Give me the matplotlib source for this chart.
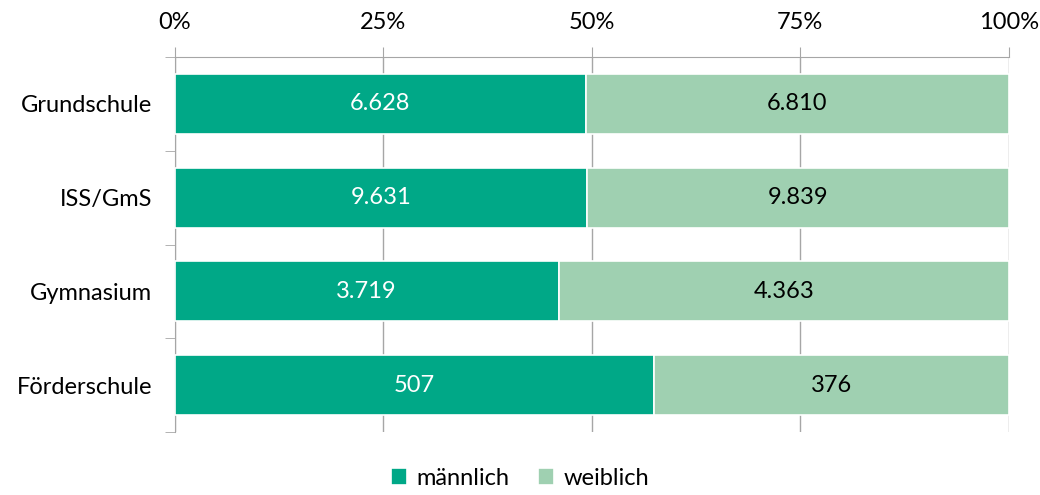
import matplotlib
matplotlib.use('agg')
import matplotlib.pyplot as plt
import numpy as np

categories = ['Grundschule', 'ISS/GmS', 'Gymnasium', 'Förderschule']
maennlich = [6628, 9631, 3719, 507]
weiblich = [6810, 9839, 4363, 376]
ticks = [0, 25, 50, 75, 100]
tick_labels = ['0%', '25%', '50%', '75%', '100%']

c_m = '#00A887'
c_w = '#9FD0B1'
grey = '#A6A6A6'

plt.rcParams['font.family'] = ['Lato', 'DejaVu Sans']

def fmt(v):
    return f'{v:,}'.replace(',', '.')

m = np.array(maennlich, dtype=float)
w = np.array(weiblich, dtype=float)
tot = m + w
pm = m / tot * 100
pw = w / tot * 100
y = np.arange(len(categories))

fig = plt.figure(figsize=(10.4, 4.95), dpi=100)
ax = fig.add_axes([0.168, 0.127, 0.802, 0.758])

b1 = ax.barh(y, pm, height=0.64, color=c_m, edgecolor='white', linewidth=1.2, label='männlich', zorder=3)
b2 = ax.barh(y, pw, left=pm, height=0.64, color=c_w, edgecolor='white', linewidth=1.2, label='weiblich', zorder=3)

fs = 17
for i in range(len(categories)):
    ax.text(pm[i] / 2, y[i], fmt(maennlich[i]), ha='center', va='center', color='white', fontsize=fs, zorder=4)
    ax.text(pm[i] + pw[i] / 2, y[i], fmt(weiblich[i]), ha='center', va='center', color='black', fontsize=fs, zorder=4)

ax.set_xlim(0, 100)
ax.set_ylim(len(categories) - 0.5, -0.5)
ax.xaxis.tick_top()
ax.set_xticks(ticks)
ax.set_xticklabels(tick_labels, fontsize=fs)
ax.tick_params(axis='x', length=7, color=grey, pad=10)
ax.grid(axis='x', color=grey, linewidth=1, zorder=0)

ax.set_yticks(y)
ax.set_yticklabels(categories, fontsize=fs)
ax.set_yticks(np.arange(len(categories) + 1) - 0.5, minor=True)
ax.tick_params(axis='y', which='major', length=0, pad=16)
ax.tick_params(axis='y', which='minor', length=7, color=grey)

for s in ['right', 'bottom']:
    ax.spines[s].set_visible(False)
for s in ['top', 'left']:
    ax.spines[s].set_color(grey)

fig.legend(handles=[b1, b2], loc='lower center', bbox_to_anchor=(0.5, -0.03), ncol=2,
           frameon=False, fontsize=fs, handlelength=0.7, handleheight=0.7,
           handletextpad=0.4, columnspacing=1.2)

fig.savefig('out.png', dpi=100)
